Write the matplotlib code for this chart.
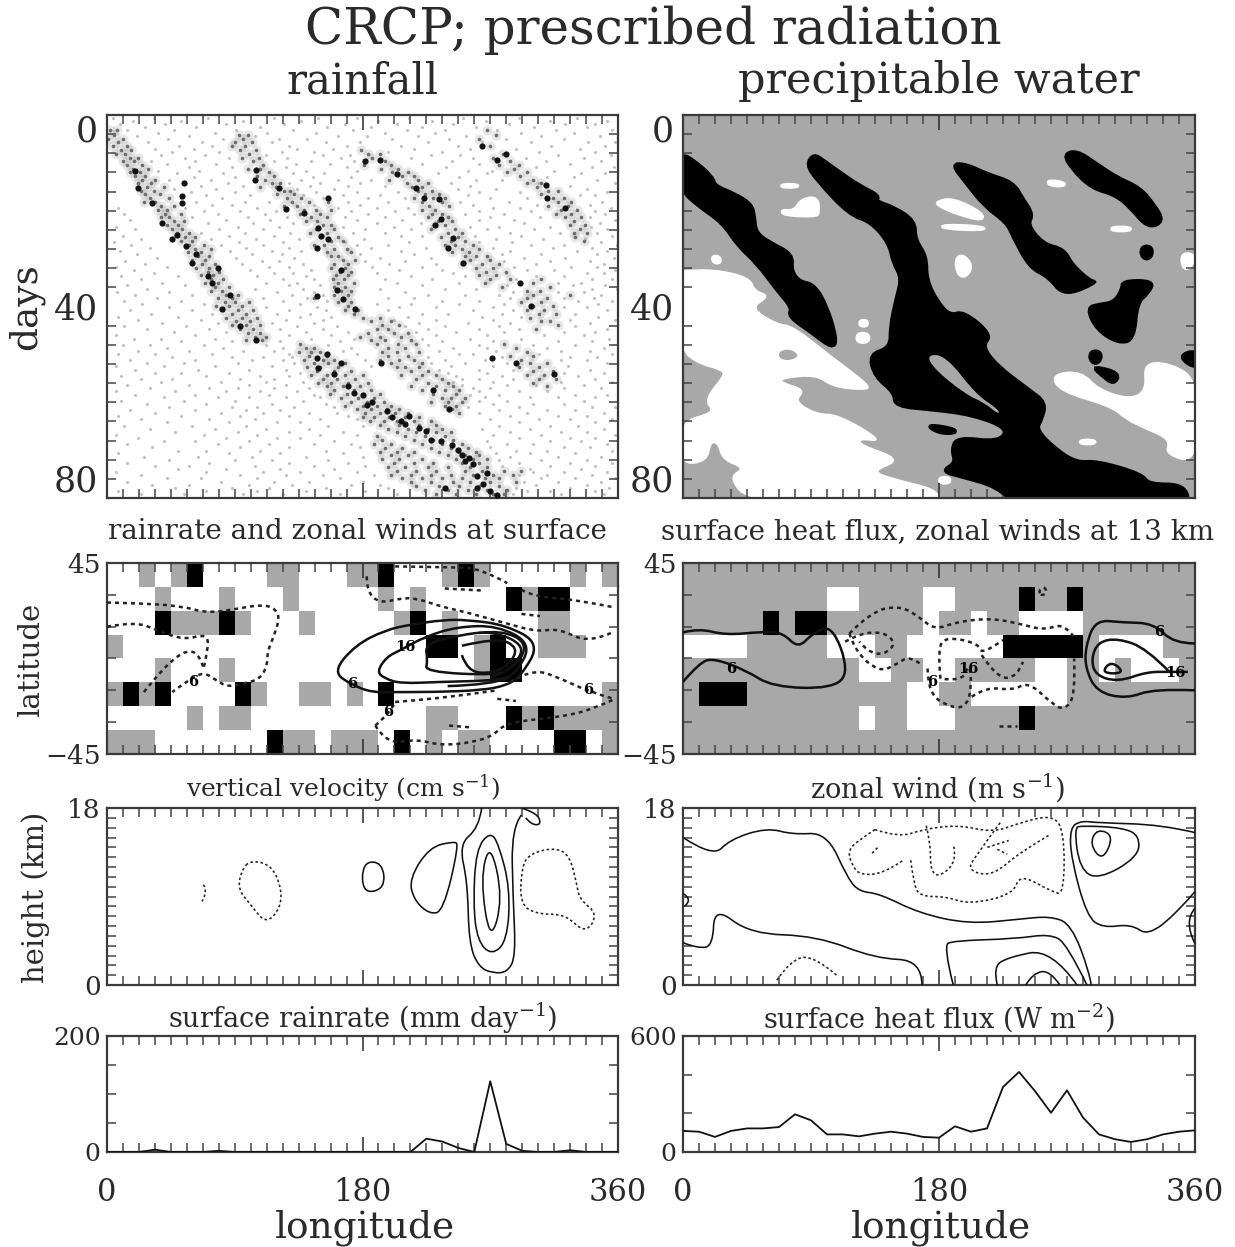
import numpy as np
import matplotlib
matplotlib.use("Agg")
import matplotlib.pyplot as plt
from matplotlib.colors import ListedColormap
from matplotlib.path import Path
from matplotlib.patches import PathPatch

W, H = 1235, 1247
plt.rcParams['font.family'] = ['DejaVu Serif']
plt.rcParams['mathtext.fontset'] = 'dejavuserif'
INK = '#2a2a2a'
GRAY = '#a8a8a8'

# ---------- longitude grid / 1-D series ----------
lon_grid = [i * 11.25 for i in range(33)]
rain_series = [0, 0, 0, 4, 0, 0, 0, 2, 0, 0, 0, 0, 0, 0, 0, 0, 0, 0, 0, 0, 23, 18, 7, 0, 122, 14, 2, 0, 0, 3, 0, 0, 0]
flux_series = [109, 105, 78, 109, 122, 122, 129, 195, 164, 91, 91, 81, 95, 105, 95, 78, 74, 133, 105, 122, 336, 414,
               315, 203, 319, 178, 91, 66, 52, 66, 91, 105, 112]

# ---------- latitude-longitude category maps: 0 white, 1 gray, 2 black ----------
rain_map = ["00101200001100011200012100000101",
            "00010001000100000101000002122000",
            "00021112100010000012010000011000",
            "10000000000000000000220120011100",
            "00010001000000000000000122000000",
            "12120000210011010200000000000001",
            "00000101100000000000110002121111",
            "11100000002110111020101100002201"]
flux_map = ["11111111111111111111111111111111",
            "11111111100111100111121121111111",
            "11111212211111101101100001111111",
            "00001111100011000000222221000011",
            "11111111111001100111110011010001",
            "12221111111111001100000011111111",
            "11111111111011000111121111111111",
            "11111111111111111111111111111111"]

# ---------- rainfall Hovmoller: hand-read spots (lon, day) ----------
dark_spots = [(20,11.7),(22,15.2),(32,18.3),(39,22.5),(46,26),(49,25),(56,27.4),(63,29.1),(60,30.9),(71,33.7),(74,35.1),
 (78,31.9),(87,37.5),(81,40.6),(94,44.1),(105,46.9),(54,14.1),(53,18.3),(53,17),(105,11.4),(104,13.5),(121,15.2),(126,19.7),
 (139,20.4),(149,23.6),(151,25.3),(156,26),(148,27.7),(165,32.3),(162,36.5),(166,38.5),(175,40.6),(156,17.3),(148,37.8),
 (148,50.7),(149,52.8),(165,51.8),(170,56.7),(180,58.4),(183,60.5),(197,61.9),(207,64),(213,62.9),(220,65.4),(228,67.8),
 (243,68.9),(255,71.7),(252,72.3),(261,75.5),(268,74.8),(261,77.9),(275,79.3),(238,77.9),(193,51.8),(230,57.4),(241,61.5),
 (192,9.3),(182,9.6),(204,12.4),(218,15.2),(223,17.3),(234,17.6),(235,21.8),(231,22.9),(244,25.6),(240,27.7),(251,30.9),
 (275,9.3),(281,8.2),(309,14.7),(310,17.3),(323,19.4),(264,6.5),(299,39.9),(291,35.1),(288,51.8),(315,54.2),(271,50.7),
 (174,58),(187,60),(201,63),(225,66),(235,68),(247,70),(250,71),(258,73),(265,77),(270,78.5),(210,64.5),(160,54),(155,50)]
mid_rows = [
 (3.2,[2,7,268]),(4.1,[5,93,99,274]),(5.0,[1,11,96,262]),(5.7,[8,90,102]),(6.4,[4,14,88,97,270]),(7.3,[10,17,94,105,179]),
 (8.1,[6,13,100,184,192,279]),(8.9,[16,22,95,107,187,272]),(9.6,[11,19,103,196,284]),(10.4,[14,25,110,181,200,276,290]),
 (11.2,[18,29,99,108,193,205,287]),(12.0,[23,16,114,201,212,282,296]),(12.7,[20,27,106,118,208,216,291]),(13.5,[25,34,111,199,219,300]),
 (14.3,[22,31,116,122,211,226,296,306]),(15.1,[28,40,108,119,215,222,303]),(15.8,[24,33,125,129,219,229,311,318]),(16.6,[27,37,120,132,224,234,306]),
 (17.4,[30,44,127,137,216,230,238,314,322]),(18.2,[34,26,130,142,156,222,236,318,327]),(19.0,[38,47,134,125,227,241,311,325]),
 (19.8,[36,42,139,147,158,231,222,320,331]),(20.6,[41,52,136,150,236,229,327,316]),(21.4,[44,38,144,155,226,240,334,323]),(22.2,[47,54,140,148,233,243,329]),
 (23.0,[42,50,152,158,238,231,337,326]),(23.9,[53,46,147,160,228,245,333]),(24.7,[49,58,155,143,240,250,338,329]),(25.5,[55,62,150,163,235,247,330]),
 (26.3,[52,60,158,166,242,252,336]),(27.1,[58,68,153,146,245,238,258]),(27.9,[62,73,160,169,250,262]),(28.7,[57,66,155,172,243,255]),
 (29.5,[64,72,163,158,260,268,252]),(30.3,[60,69,166,175,256,270]),(31.1,[67,76,160,170,264,250,276]),(31.9,[63,72,168,158,260,272]),
 (32.7,[71,79,164,172,267,281]),(33.5,[66,75,161,170,262,274]),(34.3,[73,82,167,159,270,284,306]),(35.1,[69,78,163,174,266,300]),
 (35.9,[76,86,168,160,278,312]),(36.7,[81,73,165,172,296,305]),(37.5,[84,92,160,170,300,326]),(38.3,[78,88,166,146,310,296]),
 (39.1,[90,83,100,172,163,306,292]),(39.9,[86,95,77,170,300,314]),(40.7,[92,103,82,177,168,308,296]),(41.5,[88,98,174,304,316]),
 (42.3,[95,106,84,180,192,298]),(43.1,[91,101,186,200,312,306]),(43.9,[98,108,88,194,206,318]),(44.7,[103,94,190,198,302]),
 (45.5,[108,99,184,202,212]),(46.3,[104,112,192,207,178]),(47.1,[98,109,196,214,186]),(47.9,[136,190,205,218,280]),(48.7,[140,146,198,210,288]),
 (49.5,[135,150,144,194,204,220,296]),(50.3,[142,155,198,212,284,300]),(51.1,[139,152,160,206,216,192,292]),(51.9,[146,156,168,200,222,298,310]),
 (52.7,[141,150,163,210,220,204,290,304]),(53.5,[148,160,172,214,226,300,314]),(54.3,[144,155,168,180,207,222,232,308,296]),(55.1,[152,162,175,218,236,304,316]),
 (55.9,[149,158,170,184,226,240,300]),(56.7,[155,166,178,214,232,244,310]),(57.5,[160,174,186,222,238,248]),(58.3,[157,169,180,192,230,246]),
 (59.1,[165,177,188,236,242,252]),(59.9,[172,183,195,228,240,250]),(60.7,[168,180,190,200,246,238]),(61.5,[176,186,197,206,243]),
 (62.3,[182,192,203,212,248]),(63.1,[188,199,210,220,180]),(63.9,[185,195,204,216,228]),(64.7,[192,206,220,232]),(65.5,[198,212,226,236]),
 (66.3,[204,218,232,242]),(67.1,[210,224,238,190]),(67.9,[194,216,230,244]),(68.7,[188,200,222,236,250]),(69.5,[196,208,228,242,254]),
 (70.3,[192,204,216,234,248,260]),(71.1,[200,212,240,252,262]),(71.9,[194,206,222,246,258,268]),(72.7,[202,216,230,250,262]),
 (73.5,[198,210,226,240,256,268]),(74.3,[204,218,232,252,264,280,292]),(75.1,[200,214,228,242,258,272,286]),(75.9,[208,222,236,250,266,276]),
 (76.7,[214,228,244,256,270,288]),(77.5,[218,234,248,262,276]),(78.3,[224,240,254,268,282]),(79.1,[232,246,260,272,280])]
light_rows = [
 (0.6,[4,33,71,118,149,176,213,251,290,331]),(1.2,[18,52,96,137,191,229,267,312,352]),(1.9,[9,41,84,125,168,204,244,283,323,344]),
 (2.5,[27,63,108,155,186,222,260,301,338]),(3.1,[14,47,91,131,173,211,238,275,316,356]),(3.8,[36,76,113,147,196,231,292,329]),
 (4.4,[21,58,104,163,183,219,253,306,347]),(5.1,[43,82,121,141,201,241,281,322]),(5.7,[29,67,116,154,178,226,264,299,339,358]),
 (6.4,[51,74,128,169,207,247,313,351]),(7.0,[34,61,134,159,216,256,288,333]),(7.7,[46,79,123,146,198,236,304,344]),
 (8.3,[38,69,112,152,171,228,249,318,355]),(9.0,[55,86,127,165,214,258,295,336]),(9.6,[31,62,118,144,174,243,309,348]),
 (10.3,[42,77,133,157,222,262,326]),(10.9,[58,88,126,169,239,302,342,357]),(11.6,[36,65,140,176,254,271,315]),
 (12.2,[49,82,131,153,233,268,334,351]),(12.9,[61,90,145,172,248,310,329]),(13.5,[44,73,137,163,186,260,278,345]),
 (14.2,[56,85,128,150,178,242,304,358]),(14.8,[66,96,143,170,196,256,326]),(15.5,[47,77,134,160,247,274,338]),
 (16.1,[59,90,147,176,205,262,291,352]),(16.8,[70,101,138,166,192,254,344,333]),(17.4,[52,81,152,184,210,270,296]),
 (18.1,[63,97,114,170,198,249,283,349]),(18.7,[74,88,146,178,258,303,340]),(19.4,[8,55,106,163,190,212,272,291,355]),
 (20.0,[68,94,119,172,203,262,299,344]),(20.7,[12,78,111,184,216,252,280,351]),(21.3,[60,99,127,168,196,270,305,340]),
 (22.0,[16,84,115,176,208,262,287,358]),(22.6,[71,103,131,190,221,294,347]),(23.3,[6,92,121,166,202,256,276,312,341]),
 (23.9,[20,79,110,182,214,268,301,352]),(24.6,[66,97,129,173,196,284,319,345]),(25.2,[11,86,118,207,222,259,292,356]),
 (25.9,[24,73,105,135,181,274,307,337]),(26.5,[5,93,124,168,213,262,285,348]),(27.2,[17,80,110,176,198,299,322,359]),
 (27.8,[30,98,128,186,225,272,314,342]),(28.5,[9,87,116,137,207,284,331,352]),(29.1,[21,102,123,178,216,278,306,345]),
 (29.8,[35,91,132,192,228,294,323,357]),(30.4,[13,109,121,182,210,280,312,340]),(31.1,[27,95,138,199,232,302,350]),
 (31.7,[6,42,114,128,187,222,287,327,345]),(32.4,[19,101,144,206,236,296,315,358]),(33.0,[33,118,131,190,244,281,338,350]),
 (33.7,[10,50,106,140,214,252,302,322]),(34.3,[24,124,146,196,229,288,342,356]),(35.0,[39,112,134,204,248,318,334]),
 (35.6,[14,55,128,150,222,282,328,351]),(36.3,[28,104,138,192,238,260,342,359]),(36.9,[7,44,120,146,210,286,318,336]),
 (37.6,[20,60,130,152,226,252,276,348]),(38.2,[35,110,141,198,216,284,322,343]),(38.9,[12,52,124,155,236,262,332,356]),
 (39.5,[25,68,136,190,214,248,280,346]),(40.2,[44,112,148,206,232,272,322,338]),(40.8,[16,60,128,154,198,258,286,352]),
 (41.5,[31,74,120,143,222,240,278,330]),(42.1,[8,50,136,158,212,264,292,346]),(42.8,[22,66,126,152,202,232,272,326,358]),
 (43.4,[39,78,116,146,220,254,284,340]),(44.1,[12,56,134,162,210,238,276,330]),(44.7,[28,72,122,152,226,262,290,352]),
 (45.4,[47,84,140,170,218,246,280,322,344]),(46.0,[6,62,128,158,232,268,308,336]),(46.7,[19,38,76,144,174,222,256,292,354]),
 (47.3,[52,88,122,164,236,272,318,342]),(48.0,[11,30,68,112,156,226,262,300,330]),(48.6,[42,82,124,172,244,268,310,350]),
 (49.3,[22,58,96,118,166,234,274,320,340]),(49.9,[8,34,74,128,176,248,258,304,356]),(50.6,[46,88,110,130,226,278,326,345]),
 (51.2,[16,62,102,124,182,238,266,320,338]),(51.9,[28,54,92,132,228,252,282,352]),(52.5,[6,40,76,116,186,242,272,325]),
 (53.2,[20,64,100,126,234,262,286,340]),(53.8,[34,52,86,136,240,268,322,350]),(54.5,[10,70,108,128,246,278,332]),
 (55.1,[24,46,94,118,250,262,286,344]),(55.8,[38,80,112,138,244,272,320,356]),(56.4,[14,58,100,126,250,282,302,336]),
 (57.1,[30,72,92,118,142,258,270,322,348]),(57.7,[6,48,84,108,134,262,290,310]),(58.4,[20,62,114,146,256,276,330,352]),
 (59.0,[40,78,100,126,150,266,298,318,344]),(59.7,[10,54,90,138,262,282,336]),(60.3,[28,70,116,154,272,300,322]),
 (61.0,[44,88,106,132,160,254,290,342,358]),(61.6,[16,62,98,122,276,310,330]),(62.3,[34,80,110,142,162,262,296,350]),
 (62.9,[8,52,94,128,170,284,318,338]),(63.6,[24,72,104,150,176,270,304,326,356]),(64.2,[42,86,120,136,290,344]),
 (64.9,[12,60,98,156,180,276,312,332]),(65.5,[30,76,112,142,264,298,350]),(66.2,[48,92,128,166,284,320,338]),
 (66.8,[6,68,106,150,176,272,306,358]),(67.5,[22,84,120,136,290,326,344]),(68.1,[40,62,100,160,268,312,334]),
 (68.8,[14,78,114,146,172,282,300,352]),(69.4,[32,94,128,178,270,322,340]),(70.1,[50,70,108,154,288,310,356]),
 (70.7,[8,86,122,166,274,298,330]),(71.4,[26,64,102,140,180,284,318,348]),(72.0,[44,90,116,156,276,306,338]),
 (72.7,[14,72,128,170,290,326,356]),(73.3,[34,58,104,146,182,278,312,344]),(74.0,[50,84,122,160,298,334]),
 (74.6,[6,70,110,136,176,300,322,352]),(75.3,[24,94,126,152,188,290,310,342]),(75.9,[42,66,106,164,306,330,358]),
 (76.6,[14,80,118,142,180,294,318,348]),(77.2,[32,58,100,130,172,192,302,338]),(77.9,[48,88,114,154,198,288,326,354]),
 (78.5,[8,70,106,140,182,296,312,344]),(79.2,[24,54,96,124,164,204,286,320,350])]

# ---------- precipitable water regions (lon, day) ----------
pw_white = [
 [(0,32.6),(22,32.3),(47,34),(50,36.8),(61,37.8),(47,40.3),(66,43.8),(77,44.1),(105,50.7),(132,56.7),(127,57.4),(105,56.7),
  (94,54.2),(69,54.9),(69,56),(86,57.4),(78,59.8),(94,62.6),(109,62.6),(141,68.2),(124,67.5),(124,68.9),(154,72),(132,74.4),
  (149,76.2),(179,78.3),(179,81),(48,81),(32,75.8),(44,73.7),(28,72),(25,68.5),(19,68.2),(17,72.3),(-2,73),(-2,64),(23,62.2),
  (15,59.5),(29,54.6),(28,53.2),(10,51.8),(-2,48.7),(-2,32.6)],
 [(259,54.2),(280,53.5),(292,57.4),(315,59.5),(326,57.4),(324,51.8),(342,51.8),(362,55.3),(362,72.7),(339,70.9),(343,67.8),
  (325,65.4),(312,63.6),(301,60.8),(265,57.7)],
 [(69,14.4),(81,14.4),(81,15.2),(69,15.2)],
 [(69,19.7),(78,20),(83,17.5),(95,17),(96,20.5),(93,21.3),(70,21)],
 [(178,18),(190,17.3),(211,20.4),(211,22.2),(193,20.8),(179,19)],
 [(182,22.8),(212,23.2),(212,24.2),(182,23.8)],
 [(191,30),(197,29),(204,31.5),(199,34),(193,33.5)],
 [(256,13.5),(269,14),(268,15),(257,14.8)],
 [(301,23.3),(315,23.3),(315,24.3),(301,24.3)],
 [(20,29.4),(26,29.4),(27,31),(21,31)],
 [(124,42.8),(130,42.8),(130,44.2),(124,44.2)],
 [(122,45.5),(131,45.5),(131,47.6),(122,47.6)],
 [(350,29),(358,28.8),(360,30.3),(356,32.3),(351,32)],
 [(279,67.8),(290,67.8),(290,68.8),(279,68.8)],
 [(180,75.6),(188,75.6),(188,77),(180,77)]]
pw_gray_over = [
 [(171,50),(185,50.3),(206,58.4),(222,61.5),(222,62.6),(212,60.1),(199,58.4),(177,53.2)],
 [(67,49.4),(75,48.8),(82,50.2),(76,51.3),(68,51)]]
pw_black = [
 [(-2,8),(8,9.6),(21,13.1),(22,14.8),(37,16.6),(48,18.7),(50,21.1),(51,24.6),(61,26.7),(77,29.1),(76,32.6),(82,34.9),(92,35.4),
  (101,39.9),(108,46.9),(105,48.7),(91,45.5),(74,42),(77,40.3),(66,36.5),(52,30.9),(39,27.4),(28,22.5),(11,19),(-2,15.5)],
 [(92,8.2),(99,9.6),(112,12.4),(124,14.8),(138,16.9),(135,18),(149,19.4),(163,22.2),(163,26),(171,29.5),(171,34.4),(179,39.2),
  (188,42),(197,41),(217,45.9),(210,48.3),(221,52.5),(243,57.4),(255,60.1),(252,63.6),(248,65.7),(262,69.9),(277,72.7),(291,72.3),
  (323,75.1),(327,77.2),(353,77.2),(356,82),(236,82),(221,77.6),(196,75.5),(182,74.4),(192,72.7),(189,69.9),(193,67.3),(222,68.4),
  (229,65.4),(204,62.6),(177,61.5),(149,60.8),(149,58),(135,54.6),(131,50),(146,48.7),(146,44.1),(150,38.5),(154,34),(148,30.9),
  (145,26.7),(132,22.2),(117,20.8),(94,13.5),(87,10.3)],
 [(189,10.3),(199,10.3),(214,12.4),(232,14.1),(239,17.6),(246,20.8),(242,22.9),(253,27),(268,28.1),(273,31.2),(286,34.7),(291,34.9),
  (268,37.8),(257,33.7),(244,31.9),(232,25.3),(228,22.5),(212,19),(199,14.1)],
 [(268,8.2),(277,7.5),(291,10.3),(305,13.1),(321,15.2),(331,18.7),(338,22.2),(327,23.6),(315,19.4),(304,16.6),(287,15.2),(273,11)],
 [(309,34.7),(331,34.7),(327,37.2),(319,39.2),(317,46.9),(306,47.6),(291,44.8),(284,40.3),(293,39.6),(303,39.2),(309,36.5)],
 [(323,27.5),(329,27.5),(330,29.2),(326,30.2),(322,29.2)],
 [(287,49.4),(293,49.4),(294,51),(290,52),(286,51)],
 [(288,52.5),(307,53.9),(303,56.3),(294,54.2)],
 [(362,49),(348,50.4),(362,53.2)],
 [(171,64.7),(190,65.5),(192,66.4),(180,66.4)]]

# ---------- surface wind contours (lon, lat) ----------
sfc_solid = [
 [(159,-6.3),(175,6.3),(196,13.4),(214,16),(237,18.2),(254,18.2),(281,15.8),(305,7.1),(292,-7.9),(282,-12.6),(264,-15),(230,-15.8),
  (203,-15.8),(187,-16),(173,-12.6),(159,-6.3)],
 [(190,-6.3),(197,0.8),(207,4),(224,10.3),(247,15),(275,15.5),(299,7.1),(289,-6.3),(278,-10.3),(235,-11),(207,-11.8),(196,-9.5),(190,-6.3)],
 [(224,-6.3),(226,-1),(224,7),(248,11),(272,13),(295,6),(286,-4),(275,-8),(224,-6.3)],
 [(250,6),(275,10),(290,5),(283,-3),(272,-7),(254,-6.3),(250,1.6)],
 [(262,12),(278,13.5),(297,7),(287,-5),(270,-9)],
 [(240,-13),(270,-12.5),(284,-9)]]
sfc_dash = [
 [(0,26.4),(23,26),(52,24.8),(71,21.3),(94,23.7),(108,25.3),(117,24.2),(122,19.7),(117,9.5),(113,3.2),(113,-3.2),(108,-9.5),(97,-11.8),
  (85,-13.4),(77,-10.3),(68,-6.3),(57,-10.3),(46,-15.8)],
 [(0,15),(20,17.4),(35,13.4),(54,8.7),(71,11.8),(71,3.2),(68,-4.7)],
 [(26,-15.8),(40,-4),(57,4.7),(66,0.8),(68,-4.7)],
 [(203,43.4),(241,43),(263,42.6),(282,35.5)],
 [(183,38.7),(183,31.6),(192,26),(207,28.4),(218,28.4),(235,24.5),(252,22),(281,16.6),(303,12.6),(318,14.2),(340,7.1),(357,12.6)],
 [(292,32.4),(300,29.2),(332,27.6),(358,24)],
 [(238,33),(265,32)],
 [(292,21),(305,20)],
 [(284,-11),(300,-4.7),(320,-9.5),(340,-15.8),(357,-19)],
 [(203,-20.5),(218,-19.7),(250,-17.4),(275,-15)],
 [(275,-19),(288,-20)],
 [(189,-31.6),(200,-25.3),(203,-20.5)],
 [(189,-31.6),(197,-40.3),(218,-38),(235,-41),(258,-39.5),(272,-36.3),(282,-30),(320,-27.6),(343,-23.7),(358,-19)],
 [(241,-31.6),(255,-32.4)]]
sfc_labels = [(210,5.5,'16'),(173,-12,'6'),(61,-11,'6'),(198,-25,'6'),(339,-15,'6')]

# ---------- 13 km wind contours (lon, lat) ----------
upr_solid = [
 [(0,12.3),(11,14.2),(30,11),(55,12.6),(70,12.3),(81,4.7),(91,11.8),(105,15.8),(117,-6.3),(105,-14.2),(63,-13.4),(44,-5.5),(22,0),(12,-1.6),(0,-11)],
 [(360,7.1),(345,7.1),(331,16.6),(309,17),(290,18.2),(283,5.5),(283,-4.7),(291,-15.8),(312,-19),(331,-14.2),(360,-15)],
 [(342,-6.3),(326,4.7),(306,9.5),(292,7.9),(287,0),(290,-8),(306,-11),(326,-6.3),(342,-6.3),(355,-6.3)],
 [(301,-1),(311,-7),(294,-7),(301,-1)]]
upr_dash = [
 [(117,11.8),(132,22),(152,25),(166,19.7),(177,13.4),(193,17.4),(218,19),(240,15.8),(254,13.4),(268,16.6),(275,10)],
 [(117,11.8),(121,3.2),(138,-6.3),(149,-3.2),(160,1.6),(168,-3.2)],
 [(114,7.9),(124,11.8),(141,12.6),(150,7.1),(141,1.6),(130,3.2),(124,7.9)],
 [(181,-9.5),(179,4.7),(185,10.3),(208,7.1),(210,1.6),(225,8.7)],
 [(172,-4.7),(172,-16.6),(190,-23.7),(200,-22),(203,-12),(201,-1.6),(197,-11),(181,-9.5)],
 [(210,1.6),(221,-9.5),(235,-8.7),(239,-1.6)],
 [(203,-18),(213,-13.4),(232,-15),(243,-11),(259,-21),(268,-24.5),(276,-17.4),(275,0)],
 [(250,32),(254,34),(256,31),(252,29.5),(250,32)],
 [(222,-32),(235,-32)]]
upr_labels = [(34,-5,'6'),(346,-7,'16'),(335,12.6,'6'),(201,-5,'16'),(175,-11,'6')]

# ---------- vertical velocity contours (lon, km) ----------
w_solid = [
 [(264,18),(262,16),(248,14.3),(254,10.5),(255,4.2),(262,1.8),(272,1.2),(282,1.3),(288,2.9),(286,9),(285,16),(292,17.3)],
 [(248,14.3),(244,14.6),(227,14),(213,10.8),(216,8.7),(227,7.2),(237,7.5),(248,14.3)],
 [(270,15.6),(260,13.8),(258,8.2),(261,4.5),(271,3),(282,4.5),(284,9.8),(276,14.3),(270,15.6)],
 [(270,14.6),(263,10.8),(270,4.2),(279,8.8),(270,14.6)],
 [(292,18),(303,17.5),(306,16.3),(299,16.3),(295,17)],
 [(180,12.5),(194,12.5),(196,9.8),(180,9.3),(180,12.5)]]
w_dash = [
 [(101,12.7),(116,12.2),(123,9.8),(122,7.8),(112,6.2),(101,8.2),(92,9.8),(95,11.7),(101,12.7)],
 [(68,10.2),(71,9.5),(67,8.5)],
 [(292,11.8),(297,13.3),(315,14),(326,13.2),(331,10.2),(333,8.7),(346,7.2),(337,5.2),(323,7.2),(303,7.2),(291,8.2),(292,11.8)]]

# ---------- zonal wind contours (lon, km) ----------
u_solid = [
 [(0,15),(21,13),(33,14.8),(59,16),(77,15.3),(101,15.5),(116,10.8),(124,9.5),(138,9.3),(166,7.3),(201,6.2),(237,6.7),(258,7),(273,6.2),(286,1.2),(287,0)],
 [(0,4.3),(11,3.7),(21,4),(22,8),(47,5.2),(94,5),(135,2.7),(168,2.5),(168,0)],
 [(190,0),(183,4),(190,4.5),(234,4.7),(258,5.2),(270,4.2),(284,0)],
 [(221,0),(218,1.8),(228,2.8),(259,3.7),(277,0)],
 [(241,0),(246,1.2),(258,1.5),(265,0)],
 [(360,15.5),(337,16.3),(291,16.5),(280,16.7),(272,16),(273,12.8),(284,7),(295,5.8),(315,6.2),(327,5),(347,7.3),(360,9.5)],
 [(321,15.2),(309,16),(281,16.2),(275,16),(279,11.8),(292,10.7),(320,13),(321,15.2)],
 [(291,15.9),(303,15.2),(295,12.6),(286,14.3),(291,15.9)],
 [(0,9.3),(7,8.7),(1,8)],
 [(360,7.8),(352,6.5),(360,4.2)]]
u_dash = [
 [(135,15.8),(121,14.5),(116,13.5),(119,12.2),(124,11.2),(141,11.3),(155,12.7)],
 [(135,15.8),(152,15),(168,15.8),(193,16.3),(218,15.5),(237,16.5),(259,17.3),(268,15.8),(268,9.2),(259,9.5),(237,11.3),(232,9.2),(201,8.2),
  (185,9),(166,9),(162,10.5),(160,12.8)],
 [(171,16.2),(174,14.5),(174,11.5),(181,11),(193,12.7),(190,14.3)],
 [(223,16.5),(204,12.8),(201,11.8),(210,11.2),(221,11.5),(237,13.5),(257,15.2)],
 [(214,14),(229,14.7)],
 [(221,13.8),(228,13.3)],
 [(133,13.4),(137,14)],
 [(66,0.5),(76,2.6),(92,3),(108,1)]]

# ---------- text ----------
main_title = 'CRCP; prescribed radiation'
col_titles = ['rainfall', 'precipitable water']
row2_titles = ['rainrate and zonal winds at surface', 'surface heat flux, zonal winds at 13 km']
row3_titles = ['vertical velocity (cm s$^{-1}$)', 'zonal wind (m s$^{-1}$)']
row4_titles = ['surface rainrate (mm day$^{-1}$)', 'surface heat flux (W m$^{-2}$)']


def make_ax(x0, y0, x1, y1):
    return fig.add_axes([x0 / W, 1 - y1 / H, (x1 - x0) / W, (y1 - y0) / H])


def label(px, py, s, size, **kw):
    fig.text(px / W, 1 - py / H, s, fontsize=size, ha='center', va='center', color=INK, **kw)


def style(ax, ylim, ymajor, yminor, ylabels, xlabels=False, ysize=19, pad=4.5):
    ax.set_xlim(0, 360)
    ax.set_ylim(*ylim)
    ax.set_xticks([0, 180, 360])
    ax.set_xticks(lon_grid, minor=True)
    ax.set_xticklabels(['0', '180', '360'] if xlabels else ['', '', ''], fontsize=22, color=INK)
    ax.set_yticks(ymajor)
    ax.set_yticklabels(ylabels, fontsize=ysize, color=INK)
    ax.set_yticks(yminor, minor=True)
    ax.tick_params(axis='both', which='major', direction='in', top=True, right=True, length=11, width=1.1, color=INK)
    ax.tick_params(axis='y', which='major', length=0, pad=pad)
    ax.tick_params(axis='x', which='major', pad=18)
    ax.tick_params(axis='both', which='minor', direction='in', top=True, right=True, length=6.5, width=1.1, color='#444444')
    for s in ax.spines.values():
        s.set_linewidth(1.6)
        s.set_color('#3a3a3a')


def smooth_path(seq):
    """Quadratic B-spline path through the midpoints of the read vertices (library curve codes)."""
    a = np.array(seq, dtype=float)
    closed = np.allclose(a[0], a[-1])
    if len(a) < 3:
        return Path(a)
    verts, codes = [], []
    if closed:
        verts.append((a[0] + a[-2]) / 2)
        codes.append(Path.MOVETO)
        for i in range(len(a) - 1):
            verts += [a[i], (a[i] + a[i + 1]) / 2]
            codes += [Path.CURVE3, Path.CURVE3]
    else:
        verts.append(a[0])
        codes.append(Path.MOVETO)
        for i in range(1, len(a) - 1):
            end = (a[i] + a[i + 1]) / 2 if i < len(a) - 2 else a[i + 1]
            verts += [a[i], end]
            codes += [Path.CURVE3, Path.CURVE3]
    return Path(verts, codes)


def draw_lines(ax, solid, dash, lw):
    for seg in solid:
        ax.add_patch(PathPatch(smooth_path(seg), fc='none', ec='#111111', lw=lw, zorder=3))
    for seg in dash:
        ax.add_patch(PathPatch(smooth_path(seg), fc='none', ec='#222222', lw=lw, ls=(0, (1.6, 1.6)), zorder=3))


def draw_polys(ax, polys, color, z, grow=0.0):
    for poly in polys:
        ax.add_patch(PathPatch(smooth_path(list(poly) + [poly[0]]), fc=color, ec=color if grow else 'none', lw=grow, zorder=z))


def draw_map(ax, rows):
    grid = np.array([[int(c) for c in r] for r in rows])
    lat_edges = np.linspace(45, -45, 9)
    lon_edges = np.linspace(0, 360, 33)
    cmap = ListedColormap(['white', GRAY, 'black'])
    ax.pcolormesh(lon_edges, lat_edges, grid, cmap=cmap, vmin=0, vmax=2, zorder=1)


def draw_labels(ax, labels):
    for lon, lat, s in labels:
        ax.text(lon, lat, s, fontsize=10.5, fontweight='bold', ha='center', va='center', color='black', zorder=4)


fig = plt.figure(figsize=(W / 100, H / 100), dpi=100)
label(653, 30, main_title, 36)
label(363, 81, col_titles[0], 30)
label(939, 81, col_titles[1], 31)
label(357, 532, row2_titles[0], 20)
label(938, 532, row2_titles[1], 20)
label(343, 788, row3_titles[0], 18)
label(938, 788, row3_titles[1], 19.5)
label(363, 1018, row4_titles[0], 19.5)
label(939, 1018, row4_titles[1], 19.5)
label(26, 307, 'days', 27, rotation=90)
label(31, 660, 'latitude', 21, rotation=90)
label(36, 897, 'height (km)', 21, rotation=90)
label(365, 1228, 'longitude', 27)
label(941, 1228, 'longitude', 27)

XL, XR = (107, 618), (683, 1195)
TOP_MAJOR = [0, 40, 80]
TOP_LABELS = ['0', '40', '80']


def fix_top(ax):
    lab = ax.get_yticklabels()
    lab[0].set_va('top')
    lab[2].set_va('bottom')


# row 1
ax = make_ax(XL[0], 115, XL[1], 498)
style(ax, (80, 0), TOP_MAJOR, np.arange(0, 81, 4), TOP_LABELS, ysize=25, pad=6.5)
fix_top(ax)
for d, lons in light_rows:
    ax.scatter(lons, [d] * len(lons), s=5, marker='o', color='#c2c2c2', linewidths=0, zorder=1)
for d, lons in mid_rows:
    # soft halo under each band spot, then the spot itself
    ax.scatter(lons, [d] * len(lons), s=55, marker='o', color='#9a9a9a', alpha=0.22, linewidths=0, zorder=1.5)
    ax.scatter(lons, [d] * len(lons), s=7, marker='o', color='#6e6e6e', linewidths=0, zorder=2)
dk = np.array(dark_spots)
ax.scatter(dk[:, 0], dk[:, 1], s=20, marker='o', color='#111111', linewidths=0, zorder=3)

ax = make_ax(XR[0], 115, XR[1], 498)
style(ax, (80, 0), TOP_MAJOR, np.arange(0, 81, 4), TOP_LABELS, ysize=25, pad=6.5)
fix_top(ax)
ax.set_facecolor(GRAY)
draw_polys(ax, pw_white, 'white', 1, grow=1.5)
draw_polys(ax, pw_black, 'black', 2, grow=3.0)
draw_polys(ax, pw_gray_over, GRAY, 2.5)

# row 2
ax = make_ax(XL[0], 563, XL[1], 754)
style(ax, (-45, 45), [-45, 45], np.arange(-45, 46, 15), ['\u221245', '45'])
draw_map(ax, rain_map)
draw_lines(ax, sfc_solid, sfc_dash, 1.8)
draw_labels(ax, sfc_labels)

ax = make_ax(XR[0], 563, XR[1], 754)
style(ax, (-45, 45), [-45, 45], np.arange(-45, 46, 15), ['\u221245', '45'])
draw_map(ax, flux_map)
draw_lines(ax, upr_solid, upr_dash, 1.8)
draw_labels(ax, upr_labels)

# row 3
ax = make_ax(XL[0], 808, XL[1], 985)
style(ax, (0, 18), [0, 18], np.arange(0, 19, 1), ['0', '18'])
draw_lines(ax, w_solid, w_dash, 1.15)

ax = make_ax(XR[0], 808, XR[1], 985)
style(ax, (0, 18), [0, 18], np.arange(0, 19, 1), ['0', '18'])
draw_lines(ax, u_solid, u_dash, 1.15)

# row 4
ax = make_ax(XL[0], 1036, XL[1], 1152)
style(ax, (0, 200), [0, 200], np.arange(0, 201, 50), ['0', '200'], xlabels=True, ysize=18)
ax.plot(lon_grid, rain_series, color='#111111', lw=1.3, zorder=3)

ax = make_ax(XR[0], 1036, XR[1], 1152)
style(ax, (0, 600), [0, 600], np.arange(0, 601, 200), ['0', '600'], xlabels=True, ysize=18)
ax.plot(lon_grid, flux_series, color='#111111', lw=1.3, zorder=3)

fig.savefig('out.png', dpi=100, facecolor='white')
